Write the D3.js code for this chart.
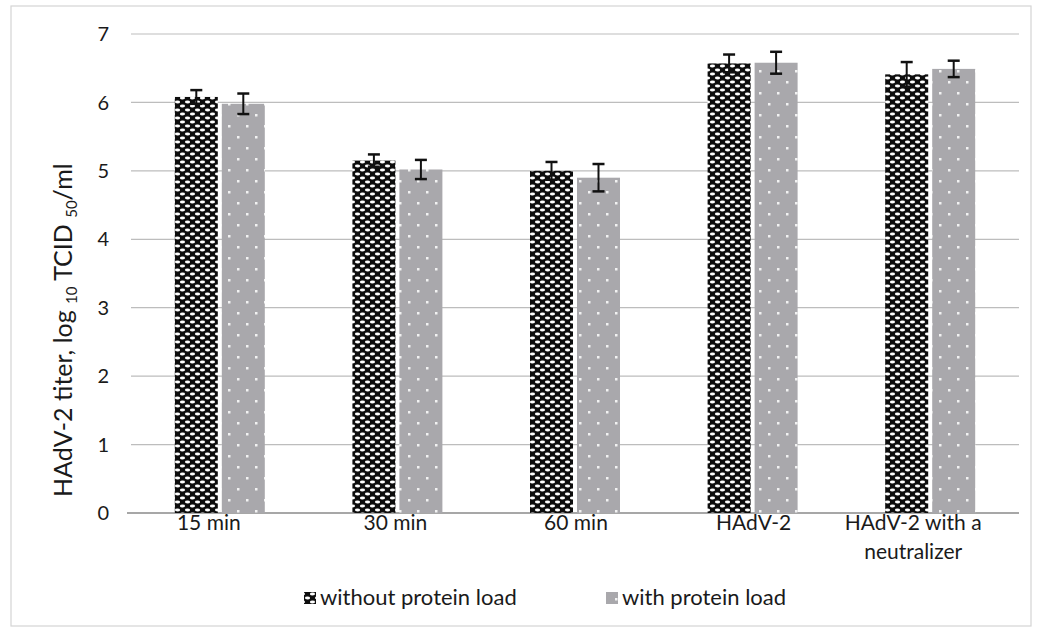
<!DOCTYPE html>
<html><head><meta charset="utf-8">
<script src="https://cdn.jsdelivr.net/npm/d3@7"></script>
<style>body{margin:0;background:#fff}svg{display:block}text{font-family:Lato,"Open Sans",sans-serif;fill:#1a1a1a}</style>
</head><body>
<svg id="c" width="1038" height="642"></svg>
<script>
const categories = ["15 min","30 min","60 min","HAdV-2","HAdV-2 with a|neutralizer"];
const seriesNames = ["without protein load","with protein load"];
const withoutLoad = [6.08, 5.15, 5.0, 6.57, 6.41];
const withoutErr  = [0.10, 0.09, 0.13, 0.13, 0.18];
const withLoad    = [5.98, 5.02, 4.9, 6.58, 6.49];
const withErr     = [0.15, 0.14, 0.20, 0.16, 0.12];
const yTicks = [0,1,2,3,4,5,6,7];

const svg = d3.select("#c");
const m = {l:131, r:1019, t:34, b:513};
const x = d3.scaleBand().domain(categories).range([m.l, m.r]);
const y = d3.scaleLinear().domain([0,7]).range([m.b, m.t]);

svg.append("rect").attr("x",11).attr("y",6).attr("width",1020).attr("height",620)
  .attr("fill","none").attr("stroke","#d4d4d4").attr("stroke-width",1.2);

const defs = svg.append("defs");
const p1 = defs.append("pattern").attr("id","p1").attr("patternUnits","userSpaceOnUse")
  .attr("width",10).attr("height",8);
p1.append("rect").attr("width",10).attr("height",8).attr("fill","#0d0d0d");
p1.append("ellipse").attr("cx",2.5).attr("cy",2).attr("rx",2.6).attr("ry",1.4).attr("fill","#fff");
p1.append("ellipse").attr("cx",7.5).attr("cy",6).attr("rx",2.6).attr("ry",1.4).attr("fill","#fff");
const p2 = defs.append("pattern").attr("id","p2").attr("patternUnits","userSpaceOnUse")
  .attr("width",18).attr("height",22);
p2.append("rect").attr("width",18).attr("height",22).attr("fill","#a9a8ac");
p2.append("rect").attr("x",3).attr("y",4).attr("width",2.5).attr("height",2.5).attr("fill","#f2f2f2");
p2.append("rect").attr("x",12).attr("y",15).attr("width",2.5).attr("height",2.5).attr("fill","#f2f2f2");

svg.append("g").selectAll("line").data(yTicks.filter(d=>d>0)).join("line")
  .attr("x1",m.l).attr("x2",m.r).attr("y1",d=>y(d)).attr("y2",d=>y(d))
  .attr("stroke","#bdbdbd").attr("stroke-width",1.2);
svg.append("line").attr("x1",m.l-4).attr("x2",m.r).attr("y1",y(0)).attr("y2",y(0))
  .attr("stroke","#8a8a8a").attr("stroke-width",1.6);

svg.append("g").selectAll("text").data(yTicks).join("text")
  .attr("x",109).attr("y",d=>y(d)).attr("dy","0.36em").attr("text-anchor","end")
  .attr("font-size",20).text(d=>d);

// y title (start-anchored at bottom)
const yt = svg.append("text").attr("transform","translate(72,497) rotate(-90)")
  .attr("text-anchor","start").attr("font-size",25);
yt.append("tspan").text("HAdV-2 titer, log ");
yt.append("tspan").attr("font-size",15).attr("dy",5).text("10");
yt.append("tspan").attr("dy",-5).text(" TCID ");
yt.append("tspan").attr("font-size",15).attr("dy",5).text("50");
yt.append("tspan").attr("dy",-5).text("/ml");

const bw = 43;
const groups = [
  {vals:withoutLoad, err:withoutErr, fill:"url(#p1)", off:-45},
  {vals:withLoad, err:withErr, fill:"url(#p2)", off:2}
];
groups.forEach(g=>{
  const gg = svg.append("g");
  gg.selectAll("rect").data(categories).join("rect")
    .attr("x",(c)=>x(c)+x.bandwidth()/2+g.off).attr("width",bw)
    .attr("y",(c,i)=>y(g.vals[i])).attr("height",(c,i)=>y(0)-y(g.vals[i]))
    .attr("fill",g.fill);
  categories.forEach((c,i)=>{
    const cx = x(c)+x.bandwidth()/2+g.off+bw/2;
    const hi = y(g.vals[i]+g.err[i]), lo = y(g.vals[i]-g.err[i]);
    gg.append("line").attr("x1",cx).attr("x2",cx).attr("y1",hi).attr("y2",lo).attr("stroke","#111").attr("stroke-width",2);
    [hi,lo].forEach(yy=>gg.append("line").attr("x1",cx-6).attr("x2",cx+6).attr("y1",yy).attr("y2",yy).attr("stroke","#111").attr("stroke-width",2.5));
  });
});

const labelShift = [-11,-2,1,1,-17];
categories.forEach((c,k)=>{
  const lines = c.split("|");
  const cx = x(c)+x.bandwidth()/2+labelShift[k];
  const t = svg.append("text").attr("y",530).attr("text-anchor","middle").attr("font-size",21);
  lines.forEach((l,i)=>t.append("tspan").attr("x",cx).attr("dy",i===0?0:29).text(l));
});

const lg = [{x:304, fill:"url(#p1)", name:seriesNames[0]},{x:606, fill:"url(#p2)", name:seriesNames[1]}];
lg.forEach(d=>{
  svg.append("rect").attr("x",d.x).attr("y",592).attr("width",12).attr("height",12).attr("fill",d.fill);
  svg.append("text").attr("x",d.x+16).attr("y",605).attr("font-size",22).text(d.name);
});
</script>
</body></html>
